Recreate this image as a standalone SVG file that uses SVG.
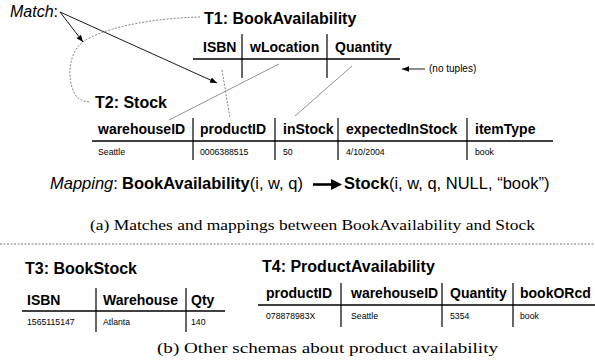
<svg xmlns="http://www.w3.org/2000/svg" width="595" height="363" viewBox="0 0 595 363">
<defs>
<marker id="ah" viewBox="0 0 10 10" refX="10" refY="5" markerWidth="7" markerHeight="7" markerUnits="userSpaceOnUse" orient="auto"><path d="M0,1 L10,5 L0,9 z" fill="#000"/></marker>
</defs>
<style>
text{font-family:"Liberation Sans",Arial,sans-serif;fill:#000}
.title{font-size:16px;font-weight:bold}
.hdr{font-size:14px;font-weight:bold}
.dat{font-size:8.7px}
.rule{stroke:#000;stroke-width:1.6}
.col{stroke:#000;stroke-width:1.2}
.cap{font-family:"Liberation Serif","Times New Roman",serif;font-size:15px}
.map{font-size:16.5px}
.arr{stroke:#000;stroke-width:0.9;fill:none}
.dash{stroke:#666;stroke-width:0.8;fill:none;stroke-dasharray:2 1.5}
.thin{stroke:#777;stroke-width:0.8;fill:none}
</style>
<rect width="595" height="363" fill="#fff"/>
<g id="match-label"><text x="10" y="17" font-size="16" font-style="italic">Match<tspan font-style="normal">:</tspan></text></g>
<g id="T1">
<text class="title" x="204" y="24">T1: BookAvailability</text>
<text class="hdr" x="203" y="52">ISBN</text>
<text class="hdr" x="250" y="52">wLocation</text>
<text class="hdr" x="335" y="52">Quantity</text>
<line class="rule" x1="193" y1="59" x2="400" y2="59"/>
<line class="col" x1="242" y1="34" x2="242" y2="78"/>
<line class="col" x1="327" y1="34" x2="327" y2="78"/>
</g>
<g id="no-tuples"><text x="429" y="72" font-size="10">(no tuples)</text></g>
<g id="T2">
<text class="title" x="95" y="108">T2: Stock</text>
<text class="hdr" x="98" y="134">warehouseID</text>
<text class="hdr" x="200" y="134">productID</text>
<text class="hdr" x="283" y="134">inStock</text>
<text class="hdr" x="346" y="134">expectedInStock</text>
<text class="hdr" x="475" y="134">itemType</text>
<line class="rule" x1="92" y1="141" x2="553" y2="141"/>
<line class="col" x1="193" y1="118" x2="193" y2="160"/>
<line class="col" x1="275" y1="118" x2="275" y2="160"/>
<line class="col" x1="338" y1="118" x2="338" y2="160"/>
<line class="col" x1="467" y1="118" x2="467" y2="160"/>
<text class="dat" x="98" y="155">Seattle</text>
<text class="dat" x="200" y="155">0006388515</text>
<text class="dat" x="283" y="155">50</text>
<text class="dat" x="346" y="155">4/10/2004</text>
<text class="dat" x="475" y="155">book</text>
</g>
<g id="mapping">
<text class="map" x="50" y="189"><tspan font-style="italic">Mapping</tspan>: <tspan x="122" font-weight="bold">BookAvailability</tspan>(i, w, q)</text>
<path d="M313,184.5 H333" stroke="#000" stroke-width="2.6"/>
<path d="M331,179 L342,184.5 L331,190 z" fill="#000"/>
<text class="map" x="344" y="189"><tspan font-weight="bold">Stock</tspan>(i, w, q, NULL, “book”)</text>
</g>
<g id="caption-a"><text class="cap" x="90" y="230" textLength="445" lengthAdjust="spacingAndGlyphs">(a) Matches and mappings between BookAvailability and Stock</text></g>
<g id="separator"><line x1="0" y1="244" x2="595" y2="244" stroke="#555" stroke-width="0.8" stroke-dasharray="2 1.5"/></g>
<g id="T3">
<text class="title" x="25" y="274">T3: BookStock</text>
<text class="hdr" x="27" y="305">ISBN</text>
<text class="hdr" x="103" y="305">Warehouse</text>
<text class="hdr" x="191" y="305">Qty</text>
<line class="rule" x1="22" y1="311" x2="225" y2="311"/>
<line class="col" x1="96" y1="288" x2="96" y2="332"/>
<line class="col" x1="186" y1="288" x2="186" y2="332"/>
<text class="dat" x="27" y="325">1565115147</text>
<text class="dat" x="103" y="325">Atlanta</text>
<text class="dat" x="191" y="325">140</text>
</g>
<g id="T4">
<text class="title" x="262" y="272">T4: ProductAvailability</text>
<text class="hdr" x="266" y="298">productID</text>
<text class="hdr" x="351" y="298">warehouseID</text>
<text class="hdr" x="450" y="298">Quantity</text>
<text class="hdr" x="520" y="298">bookORcd</text>
<line class="rule" x1="258" y1="305" x2="595" y2="305"/>
<line class="col" x1="341" y1="283" x2="341" y2="327"/>
<line class="col" x1="442" y1="283" x2="442" y2="327"/>
<line class="col" x1="513" y1="283" x2="513" y2="327"/>
<text class="dat" x="266" y="319">078878983X</text>
<text class="dat" x="351" y="319">Seattle</text>
<text class="dat" x="450" y="319">5354</text>
<text class="dat" x="520" y="319">book</text>
</g>
<g id="caption-b"><text class="cap" x="157" y="353" textLength="341" lengthAdjust="spacingAndGlyphs">(b) Other schemas about product availability</text></g>
<g id="connectors">
<path class="dash" d="M200,17 C160,18 110,25 84,41 C68,52 66,80 76,96 C80,100 85,102 90,102"/>
<line class="dash" x1="222" y1="70" x2="230" y2="118"/>
<line class="thin" x1="279" y1="64" x2="169" y2="120"/>
<line class="thin" x1="352" y1="66" x2="295" y2="116"/>
<line class="arr" x1="60" y1="12" x2="83" y2="42" marker-end="url(#ah)"/>
<line class="arr" x1="60" y1="12" x2="217" y2="83" marker-end="url(#ah)"/>
<line class="arr" x1="425" y1="69" x2="402" y2="69" marker-end="url(#ah)"/>
</g>
</svg>
